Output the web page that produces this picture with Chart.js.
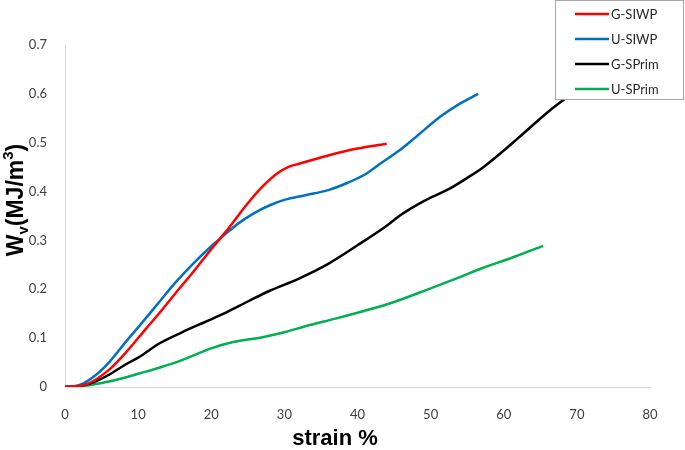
<!DOCTYPE html>
<html>
<head>
<meta charset="utf-8">
<script src="https://cdn.jsdelivr.net/npm/chart.js@4"></script>
<style>
  html, body { margin: 0; padding: 0; background: #fff; }
  #wrap { width: 685px; height: 450px; }
</style>
</head>
<body>
<div id="wrap"><canvas id="chart" width="685" height="450"></canvas></div>
<script>
// values (strain %, W_v in MJ/m3)
const gSiwpX = [0, 3, 6, 8.4, 11, 13, 15, 17.5, 20, 22, 25, 27, 29, 30.5, 32, 36, 40, 44];
const gSiwpY = [0, 0.006, 0.035, 0.072, 0.118, 0.153, 0.19, 0.235, 0.282, 0.318, 0.376, 0.41, 0.437, 0.45, 0.457, 0.474, 0.488, 0.498];

const uSiwpX = [0, 2, 4, 6, 8.4, 10, 13, 15, 17.5, 20, 22, 24, 26, 28, 30, 33, 36, 38.5, 41, 43, 45.8, 48, 51.3, 54, 56.5];
const uSiwpY = [0, 0.004, 0.022, 0.05, 0.094, 0.122, 0.176, 0.212, 0.252, 0.288, 0.314, 0.338, 0.357, 0.372, 0.383, 0.393, 0.403, 0.417, 0.435, 0.456, 0.485, 0.512, 0.553, 0.58, 0.6];

const gSprimX = [0, 2, 4, 6, 8.4, 10, 13, 16, 19, 22, 25, 28, 32, 36, 40, 44, 46, 49, 52.6, 55, 57.2, 60, 62, 66.3, 69.3];
const gSprimY = [0, 0.002, 0.01, 0.025, 0.047, 0.06, 0.09, 0.112, 0.132, 0.152, 0.175, 0.197, 0.222, 0.252, 0.29, 0.33, 0.353, 0.38, 0.406, 0.428, 0.45, 0.484, 0.51, 0.566, 0.6];

const uSprimX = [0, 3, 5, 8.4, 10, 13, 16, 20, 23, 27, 30, 33, 37, 41, 45, 50, 54, 57, 61, 65.4];
const uSprimY = [0, 0.003, 0.008, 0.02, 0.027, 0.04, 0.055, 0.079, 0.092, 0.102, 0.112, 0.125, 0.14, 0.156, 0.174, 0.202, 0.225, 0.243, 0.264, 0.289];

const seriesNames = ['G-SIWP', 'U-SIWP', 'G-SPrim', 'U-SPrim'];
const seriesColors = ['#ff0000', '#0070c0', '#000000', '#00b050'];

const xTicks = [0, 10, 20, 30, 40, 50, 60, 70, 80];
const yTicks = [0, 0.1, 0.2, 0.3, 0.4, 0.5, 0.6, 0.7];

const toPoints = (xs, ys) => xs.map((x, i) => ({ x: x, y: ys[i] }));
const allX = [gSiwpX, uSiwpX, gSprimX, uSprimX];
const allY = [gSiwpY, uSiwpY, gSprimY, uSprimY];

// legend box in the top right corner, drawn over the lines
const boxLegend = {
  id: 'boxLegend',
  afterDatasetsDraw(chart) {
    const ctx = chart.ctx;
    ctx.save();
    ctx.fillStyle = '#fff';
    ctx.strokeStyle = '#a6a6a6';
    ctx.lineWidth = 1;
    ctx.fillRect(555.5, 0.5, 128, 99);
    ctx.strokeRect(555.5, 0.5, 128, 99);
    ctx.font = '13px Lato, "Open Sans", sans-serif';
    ctx.textBaseline = 'middle';
    ctx.fillStyle = '#262626';
    chart.data.datasets.forEach((ds, i) => {
      const y = 14 + i * 25;
      ctx.strokeStyle = ds.borderColor;
      ctx.lineWidth = 2.5;
      ctx.beginPath();
      ctx.moveTo(575, y);
      ctx.lineTo(609, y);
      ctx.stroke();
      ctx.fillText(ds.label, 611, y + 1);
    });
    ctx.restore();
  }
};

// axis titles, the y one with subscript v and superscript 3
const axisTitles = {
  id: 'axisTitles',
  afterDraw(chart) {
    const ctx = chart.ctx;
    ctx.save();
    ctx.fillStyle = '#000';
    ctx.textBaseline = 'alphabetic';
    ctx.font = 'bold 22px "Liberation Sans", Arial, sans-serif';
    ctx.textAlign = 'center';
    ctx.fillText('strain %', 335, 445);

    const big = 'bold 23px "Liberation Sans", Arial, sans-serif';
    const small = 'bold 15px "Liberation Sans", Arial, sans-serif';
    const parts = [
      { t: 'W', f: big, dy: 0 },
      { t: 'v', f: small, dy: 5 },
      { t: '(MJ/m', f: big, dy: 0 },
      { t: '3', f: small, dy: -10 },
      { t: ')', f: big, dy: 0 }
    ];
    let total = 0;
    parts.forEach(p => { ctx.font = p.f; p.w = ctx.measureText(p.t).width; total += p.w; });
    ctx.translate(23, 200);
    ctx.rotate(-Math.PI / 2);
    ctx.textAlign = 'left';
    let x = -total / 2;
    parts.forEach(p => {
      ctx.font = p.f;
      ctx.fillText(p.t, x, p.dy);
      x += p.w;
    });
    ctx.restore();
  }
};

const chart = new Chart(document.getElementById('chart'), {
  type: 'line',
  data: {
    datasets: seriesNames.map((name, i) => ({
      label: name,
      data: toPoints(allX[i], allY[i]),
      borderColor: seriesColors[i],
      backgroundColor: seriesColors[i],
      borderWidth: 2.5,
      pointRadius: 0,
      cubicInterpolationMode: 'monotone',
      fill: false
    }))
  },
  options: {
    responsive: false,
    animation: false,
    layout: { padding: { top: 45, right: 35, left: 0, bottom: 0 } },
    plugins: {
      legend: { display: false },
      tooltip: { enabled: false }
    },
    scales: {
      x: {
        type: 'linear',
        min: 0,
        max: 80,
        afterBuildTicks: s => { s.ticks = xTicks.map(v => ({ value: v })); },
        afterFit: s => { s.height = 63; },
        grid: { display: false },
        border: { display: true, color: '#d9d9d9', width: 1 },
        ticks: {
          padding: 12,
          color: '#404040',
          font: { family: 'Lato, "Open Sans", sans-serif', size: 13 },
          callback: v => String(v)
        }
      },
      y: {
        type: 'linear',
        min: 0,
        max: 0.7,
        afterBuildTicks: s => { s.ticks = yTicks.map(v => ({ value: v })); },
        afterFit: s => { s.width = 65; },
        grid: { display: false },
        border: { display: true, color: '#d9d9d9', width: 1 },
        ticks: {
          padding: 10,
          color: '#404040',
          font: { family: 'Lato, "Open Sans", sans-serif', size: 13 },
          callback: v => v === 0 ? '0' : v.toFixed(1)
        }
      }
    }
  },
  plugins: [boxLegend, axisTitles]
});
</script>
</body>
</html>
